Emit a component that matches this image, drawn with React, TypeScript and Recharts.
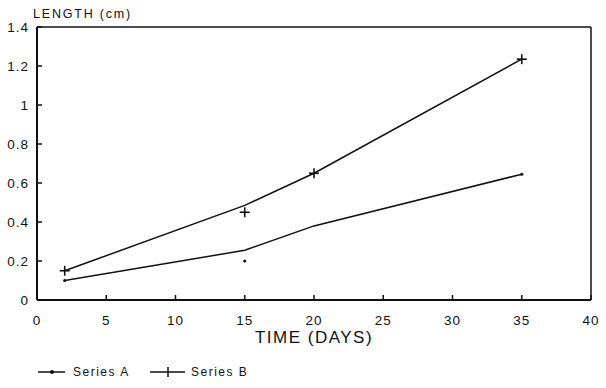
import React from 'react';
import {
  ComposedChart, Line, Scatter, XAxis, YAxis, ReferenceLine, Legend,
} from 'recharts';

const curveAX = [2, 15, 20, 35];
const curveAY = [0.1, 0.255, 0.38, 0.645];
const curveBX = [2, 15, 20, 35];
const curveBY = [0.15, 0.485, 0.65, 1.235];
const markAX = [2, 15, 35];
const markAY = [0.1, 0.2, 0.645];
const markBX = [2, 15, 20, 35];
const markBY = [0.15, 0.45, 0.65, 1.235];
const xTicks = [0, 5, 10, 15, 20, 25, 30, 35, 40];
const yTicks = [0, 0.2, 0.4, 0.6, 0.8, 1, 1.2, 1.4];
const seriesNames = ['Series A', 'Series B'];

const zip = (xs: number[], ys: number[]) => xs.map((x, i) => ({ x, y: ys[i] }));
const curveA = zip(curveAX, curveAY);
const curveB = zip(curveBX, curveBY);
const marksA = zip(markAX, markAY);
const marksB = zip(markBX, markBY);

const INK = '#111';
const FONT = '"Liberation Sans", Arial, sans-serif';

const DotShape = (p: any) => <circle cx={p.cx} cy={p.cy} r={1.6} fill={INK} />;
const PlusShape = (p: any) => (
  <g stroke={INK} strokeWidth={1.6}>
    <line x1={p.cx - 5} y1={p.cy} x2={p.cx + 5} y2={p.cy} />
    <line x1={p.cx} y1={p.cy - 5} x2={p.cx} y2={p.cy + 5} />
  </g>
);

const LegendContent = () => (
  <svg width={260} height={20}>
    <g stroke={INK} strokeWidth={1.5}>
      <line x1={3} y1={10} x2={30} y2={10} />
      <circle cx={17} cy={10} r={1.3} fill={INK} />
      <line x1={115} y1={10} x2={150} y2={10} />
      <line x1={133} y1={5} x2={133} y2={15} />
    </g>
    <text x={38} y={14} fontSize={12} fontFamily={FONT} letterSpacing={1.5} fill={INK}>{seriesNames[0]}</text>
    <text x={156} y={14} fontSize={12} fontFamily={FONT} letterSpacing={1.5} fill={INK}>{seriesNames[1]}</text>
  </svg>
);

const YLabel = (props: any) => {
  const vb = props.viewBox || { x: 0, y: 27 };
  return (
    <text x={vb.x + 33} y={vb.y - 9} fontSize={12.5} fontFamily={FONT} letterSpacing={1.8} fill={INK}>
      LENGTH (cm)
    </text>
  );
};

export default function App() {
  return (
    <div style={{ position: 'absolute', left: 0, top: 0, background: '#fff' }}>
      <ComposedChart
        width={606}
        height={388}
        margin={{ top: 27, right: 15, left: 0, bottom: 48 }}
      >
        <XAxis
          dataKey="x"
          type="number"
          domain={[0, 40]}
          ticks={xTicks}
          allowDataOverflow
          height={40}
          tickSize={-5}
          tickMargin={20}
          axisLine={{ stroke: INK, strokeWidth: 2 }}
          tickLine={{ stroke: INK, strokeWidth: 1.5 }}
          tick={{ fill: INK, fontSize: 13.5, fontFamily: FONT, letterSpacing: 1 }}
          label={{
            value: 'TIME (DAYS)',
            position: 'insideBottom',
            offset: -3,
            style: { fill: INK, fontSize: 17, fontFamily: FONT, letterSpacing: 1.5 },
          }}
        />
        <YAxis
          dataKey="y"
          type="number"
          domain={[0, 1.4]}
          ticks={yTicks}
          allowDataOverflow
          width={37}
          tickSize={-5}
          tickMargin={13}
          axisLine={{ stroke: INK, strokeWidth: 2 }}
          tickLine={{ stroke: INK, strokeWidth: 1.5 }}
          tick={{ fill: INK, fontSize: 13.5, fontFamily: FONT, letterSpacing: 1 }}
          label={<YLabel />}
        />
        <ReferenceLine y={1.4} stroke={INK} strokeWidth={1.5} />
        <ReferenceLine x={40} stroke={INK} strokeWidth={1.5} />
        <Line data={curveA} dataKey="y" type="linear" stroke={INK} strokeWidth={1.5} dot={false} isAnimationActive={false} name={seriesNames[0]} />
        <Line data={curveB} dataKey="y" type="linear" stroke={INK} strokeWidth={1.5} dot={false} isAnimationActive={false} name={seriesNames[1]} />
        <Scatter data={marksA} dataKey="y" shape={DotShape} isAnimationActive={false} legendType="none" />
        <Scatter data={marksB} dataKey="y" shape={PlusShape} isAnimationActive={false} legendType="none" />
        <Legend
          layout="horizontal"
          verticalAlign="middle"
          align="center"
          content={<LegendContent />}
          wrapperStyle={{ top: 362, left: 35, width: 260, height: 20 }}
        />
      </ComposedChart>
    </div>
  );
}
